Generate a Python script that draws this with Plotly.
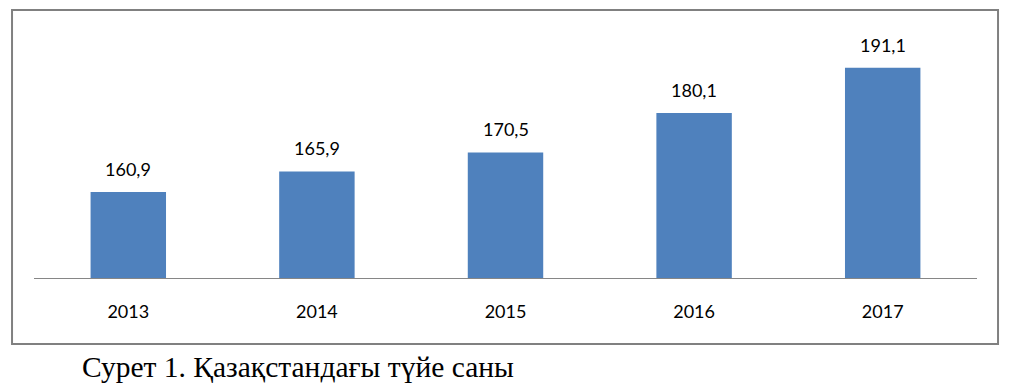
import plotly.graph_objects as go

years = ["2013", "2014", "2015", "2016", "2017"]
values = [160.9, 165.9, 170.5, 180.1, 191.1]
labels = [f"{v:.1f}".replace(".", ",") for v in values]

fig = go.Figure()
fig.add_trace(go.Bar(x=years, y=values, marker_color="#4F81BD", marker_line_width=0,
                     hoverinfo="skip"))

for i, (v, t) in enumerate(zip(values, labels)):
    fig.add_annotation(x=i, y=v, text=t, showarrow=False, yanchor="bottom", yshift=10,
                       font=dict(family="Lato", size=18, color="#000000"))

fig.add_shape(type="rect", xref="paper", yref="paper", x0=-0.0233, x1=1.0223, y0=-0.267, y1=1.085,
              line=dict(color="#808080", width=2), fillcolor="rgba(0,0,0,0)", layer="below")

fig.add_annotation(xref="paper", yref="paper", x=0.049, y=-0.362, xanchor="left", yanchor="middle",
                   text="Сурет 1. Қазақстандағы түйе саны", showarrow=False,
                   font=dict(family="Liberation Serif", size=29.5, color="#000000"))

fig.update_layout(
    width=1013, height=384,
    margin=dict(l=34, r=36, t=31, b=106, autoexpand=False),
    paper_bgcolor="white", plot_bgcolor="white",
    bargap=0.6, showlegend=False,
    xaxis=dict(type="category", range=[-0.5, len(years) - 0.5], showline=True,
               linecolor="#868686", linewidth=1, ticks="", ticklabelstandoff=17,
               tickfont=dict(family="Lato", size=18, color="#000000"), fixedrange=True),
    yaxis=dict(range=[140, 200], visible=False, showgrid=False, fixedrange=True),
)
fig.write_html("out.html", config={"displayModeBar": False},
               post_script="document.body.style.margin='0';document.body.style.overflow='hidden';")
